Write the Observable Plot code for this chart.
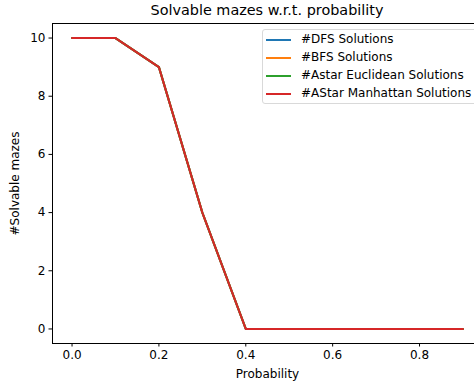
<!DOCTYPE html>
<html>
<head>
<meta charset="utf-8">
<script src="https://cdn.jsdelivr.net/npm/d3@7"></script>
<script src="https://cdn.jsdelivr.net/npm/@observablehq/plot@0.6"></script>
<style>
  html, body { margin: 0; padding: 0; background: #fff; }
  #wrap { position: relative; width: 474px; height: 383px; overflow: hidden; font-family: "DejaVu Sans", sans-serif; }
  #title { position: absolute; left: 52px; width: 430px; top: 2px; text-align: center; font-size: 14.4px; color: #000; }
  #legend { position: absolute; left: 262px; top: 29px; width: 230px; height: 75px; border: 1px solid #d9d9d9; border-radius: 3px; background: rgba(255,255,255,0.8); box-sizing: border-box; }
  .item { position: absolute; left: 0; height: 18px; font-size: 12px; color: #000; white-space: nowrap; }
  .item .sw { position: absolute; left: 3px; top: 8px; width: 25px; height: 2px; }
  .item .lb { position: absolute; left: 38px; top: 1px; }
  svg { position: absolute; left: 0; top: 0; }
</style>
</head>
<body>
<div id="wrap">
  <div id="title">Solvable mazes w.r.t. probability</div>
</div>
<script>
const probability = [0.0, 0.1, 0.2, 0.3, 0.4, 0.5, 0.6, 0.7, 0.8, 0.9];
const dfsSolutions = [10, 10, 9, 4, 0, 0, 0, 0, 0, 0];
const bfsSolutions = [10, 10, 9, 4, 0, 0, 0, 0, 0, 0];
const astarEuclideanSolutions = [10, 10, 9, 4, 0, 0, 0, 0, 0, 0];
const astarManhattanSolutions = [10, 10, 9, 4, 0, 0, 0, 0, 0, 0];
const seriesNames = ["#DFS Solutions", "#BFS Solutions", "#Astar Euclidean Solutions", "#AStar Manhattan Solutions"];
const seriesColors = ["#1f77b4", "#ff7f0e", "#2ca02c", "#d62728"];
const xTicks = [0.0, 0.2, 0.4, 0.6, 0.8];
const yTicks = [0, 2, 4, 6, 8, 10];

const allSeries = [dfsSolutions, bfsSolutions, astarEuclideanSolutions, astarManhattanSolutions];
const rows = [];
allSeries.forEach((vals, i) => {
  vals.forEach((v, j) => rows.push({series: seriesNames[i], x: probability[j], y: v}));
});

const chart = Plot.plot({
  width: 474,
  height: 383,
  marginLeft: 52,
  marginTop: 23,
  marginBottom: 40,
  marginRight: -8,
  style: {fontFamily: "DejaVu Sans, sans-serif", fontSize: "12px", color: "#000", background: "transparent"},
  x: {domain: [-0.045, 0.945]},
  y: {domain: [-0.5, 10.5]},
  color: {domain: seriesNames, range: seriesColors},
  marks: [
    Plot.frame({stroke: "#000", strokeWidth: 1}),
    Plot.axisX({ticks: xTicks, tickFormat: d => d.toFixed(1), tickSize: 3.5, tickPadding: 3.5, fontSize: 12,
      label: "Probability", labelAnchor: "center", labelArrow: "none", labelOffset: 34}),
    Plot.axisY({ticks: yTicks, tickFormat: d => String(d), tickSize: 3.5, tickPadding: 3.5, fontSize: 12,
      label: "#Solvable mazes", labelAnchor: "center", labelArrow: "none", labelOffset: 42}),
    Plot.line(rows, {x: "x", y: "y", z: "series", stroke: "series", strokeWidth: 2})
  ]
});
document.getElementById("wrap").appendChild(chart);

const legend = document.createElement("div");
legend.id = "legend";
seriesNames.forEach((name, i) => {
  const it = document.createElement("div");
  it.className = "item";
  it.style.top = (1 + i * 18) + "px";
  it.innerHTML = `<span class="sw" style="background:${seriesColors[i]}"></span><span class="lb">${name}</span>`;
  legend.appendChild(it);
});
document.getElementById("wrap").appendChild(legend);
</script>
</body>
</html>
